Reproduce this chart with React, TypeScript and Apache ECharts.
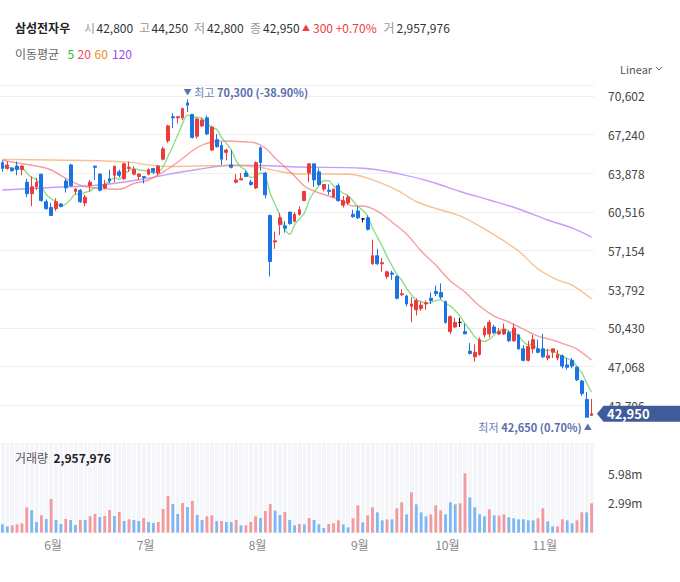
import React, { useEffect, useRef } from 'react';
import * as echarts from 'echarts';

const FONT = "'Noto Sans CJK KR', 'Noto Sans', sans-serif";
const STOCK_NAME = '삼성전자우';
const YEAR = 2024;

// trading days shown on the chart
const MONTHS = [5, 6, 7, 8, 9, 10, 11];
const MAY_DAYS = [17, 20, 21, 22, 23, 24, 27, 28, 29, 30, 31];
const JUN_DAYS = [3, 4, 5, 7, 10, 11, 12, 13, 14, 17, 18, 19, 20, 21, 24, 25, 26, 27, 28];
const JUL_DAYS = [1, 2, 3, 4, 5, 8, 9, 10, 11, 12, 15, 16, 17, 18, 19, 22, 23, 24, 25, 26, 29, 30, 31];
const AUG_DAYS = [1, 2, 5, 6, 7, 8, 9, 12, 13, 14, 16, 19, 20, 21, 22, 23, 26, 27, 28, 29, 30];
const SEP_DAYS = [2, 3, 4, 5, 6, 9, 10, 11, 12, 13, 19, 20, 23, 24, 25, 26, 27, 30];
const OCT_DAYS = [2, 4, 7, 8, 10, 11, 14, 15, 16, 17, 18, 21, 22, 23, 24, 25, 28, 29, 30, 31];
const NOV_DAYS = [1, 4, 5, 6, 7, 8, 11, 12, 13, 14];
const MONTH_DAYS = [MAY_DAYS, JUN_DAYS, JUL_DAYS, AUG_DAYS, SEP_DAYS, OCT_DAYS, NOV_DAYS];

const OPEN = [
  64800, 64300, 64300, 64500, 64200, 63100, 62100, 62700, 63800, 61400,
  60900, 60800, 61200, 63200, 64600, 62300, 62400, 61300, 62800, 64500,
  63800, 62600, 63400, 63700, 64000, 63400, 64300, 63800, 63600, 63600,
  63800, 64300, 63900, 65100, 66700, 68800, 68700, 68700, 70000, 69000,
  67100, 68000, 68700, 65900, 66800, 66300, 65700, 64600, 63100, 63300,
  63900, 63100, 62600, 66100, 63900, 60200, 57900, 59400, 59300, 60500,
  59700, 60300, 61500, 63900, 64700, 64000, 62500, 62400, 61800, 62800,
  61100, 61300, 60300, 60600, 59900, 60000, 56000, 56700, 56000, 54900,
  55200, 54900, 53300, 53200, 52300, 52000, 52100, 52500, 53000, 53600,
  53500, 52700, 50100, 50500, 50900, 50100, 48400, 47900, 48100, 49800,
  49900, 50500, 49900, 49900, 50000, 49300, 49800, 48600, 47600, 48600,
  48600, 48600, 47800, 48300, 47800, 48000, 47200, 47600, 47000, 45800,
  44200, 42800,
];
const CLOSE = [
  64300, 64600, 64100, 64200, 64500, 62100, 62700, 63100, 61500, 60800,
  60200, 61400, 61000, 62600, 62800, 62500, 61400, 61800, 63100, 64400,
  62400, 62900, 63200, 64500, 63700, 64700, 64400, 64200, 63800, 63500,
  64200, 64000, 64500, 66000, 68000, 68700, 68800, 69500, 69800, 67000,
  68600, 68500, 67300, 67900, 66200, 65100, 65900, 64400, 63300, 63400,
  63600, 62900, 64800, 64800, 62000, 56200, 58000, 60000, 59100, 59500,
  60300, 60700, 62300, 64700, 63300, 62900, 62900, 62300, 62500, 61500,
  61500, 61800, 60100, 60000, 59900, 59000, 56700, 56000, 56100, 55300,
  55100, 53000, 53400, 52500, 52500, 52800, 52400, 52600, 52800, 53400,
  53100, 50900, 51400, 50900, 50900, 49900, 48200, 48300, 49400, 50400,
  50900, 50000, 50100, 50300, 49300, 50400, 48600, 47600, 48800, 49400,
  48300, 47900, 48000, 48600, 48100, 47100, 47000, 47100, 45900, 44700,
  42650, 42950,
];
const LOW = [
  64000, 64200, 64000, 63700, 63700, 61800, 61000, 62400, 61400, 60700,
  60200, 60600, 60900, 62200, 62700, 62000, 61300, 61000, 62300, 63300,
  62300, 62500, 63000, 63100, 63500, 63300, 64000, 63700, 63300, 63000,
  63700, 63800, 63700, 65000, 66500, 67800, 68200, 68500, 69200, 66900,
  66900, 67900, 67200, 65800, 66100, 64600, 65000, 64300, 63000, 63300,
  63600, 62800, 62500, 64100, 61700, 54900, 57300, 58500, 58700, 59400,
  59600, 60200, 61500, 63100, 62700, 62800, 62300, 62000, 61800, 61400,
  60900, 61100, 60000, 59900, 59600, 58900, 55900, 55900, 55300, 54700,
  54600, 52900, 53200, 52300, 50900, 51500, 51900, 52000, 52500, 53200,
  52900, 50800, 49900, 50400, 50500, 49900, 48100, 47500, 48000, 49600,
  49600, 49900, 49800, 49800, 49200, 49200, 48500, 47500, 47500, 48200,
  48200, 47800, 47600, 47800, 47600, 46900, 46800, 46900, 45800, 44500,
  42650, 42800,
];
const HIGH = [
  65000, 64900, 64400, 64900, 64600, 63400, 63600, 63500, 63800, 61600,
  61300, 61700, 61300, 63400, 64700, 62600, 62500, 62000, 63300, 64500,
  63900, 63300, 64200, 64500, 64200, 64800, 64900, 64500, 63900, 63600,
  64300, 64300, 64600, 66200, 68100, 69100, 68800, 69600, 70300, 69000,
  68700, 68700, 68900, 68000, 67300, 66600, 66000, 65900, 63800, 63900,
  64100, 63300, 64900, 66200, 64000, 60300, 58800, 60400, 59700, 60500,
  60500, 61000, 62300, 64700, 64700, 64300, 62900, 62900, 62500, 63000,
  61900, 62000, 60700, 61000, 60000, 60200, 58100, 57300, 56500, 55400,
  55400, 55000, 53800, 53300, 53100, 53000, 52700, 52800, 53500, 54100,
  54300, 52800, 51500, 51300, 51300, 50800, 49100, 49000, 49600, 50600,
  51100, 50700, 50400, 50800, 50200, 50800, 49900, 48900, 49300, 49800,
  49400, 49900, 48600, 48600, 48500, 48100, 47800, 47800, 47100, 45900,
  44850, 44250,
];
const VOLUME = [
  840000, 638000, 739000, 840000, 941000, 2554000, 2285000, 1075000, 1747000, 1378000,
  3394000, 1277000, 874000, 1378000, 1277000, 773000, 1277000, 1277000, 1646000, 1882000,
  1579000, 1680000, 2285000, 1680000, 2083000, 1176000, 1344000, 1277000, 1176000, 1478000,
  1075000, 974000, 1075000, 2386000, 3696000, 2890000, 1882000, 2990000, 2587000, 3192000,
  1781000, 1277000, 1646000, 1747000, 1176000, 1176000, 1075000, 1075000, 1277000, 739000,
  739000, 1075000, 1646000, 1478000, 2184000, 2890000, 2218000, 1781000, 2083000, 1277000,
  739000, 874000, 840000, 1478000, 1277000, 840000, 470000, 874000, 941000, 1243000,
  840000, 538000, 1445000, 2755000, 1042000, 1747000, 2554000, 2050000, 1243000, 1344000,
  1344000, 2453000, 3058000, 1848000, 4066000, 2856000, 2050000, 1646000, 1848000, 2755000,
  2251000, 1848000, 3058000, 2856000, 2957000, 5981000, 3562000, 2554000, 1848000, 1646000,
  2352000, 1747000, 1714000, 1848000, 1546000, 1445000, 1344000, 1344000, 1243000, 1243000,
  1445000, 2453000, 1142000, 638000, 638000, 1344000, 1243000, 941000, 1243000, 2050000,
  2050000, 2957976,
];
// 1 = red bar, 0 = blue bar (as drawn)
const VOLUME_UP = [
  0, 0, 1, 1, 1, 1, 0, 0, 1, 0,
  1, 0, 0, 1, 0, 0, 1, 0, 1, 1,
  0, 1, 1, 0, 1, 0, 1, 0, 0, 1,
  0, 0, 1, 1, 1, 0, 0, 1, 0, 1,
  0, 0, 1, 1, 0, 1, 0, 0, 1, 0,
  1, 1, 1, 0, 1, 1, 0, 0, 1, 0,
  0, 1, 0, 1, 0, 0, 0, 1, 1, 1,
  0, 0, 1, 1, 0, 1, 1, 0, 0, 1,
  0, 1, 1, 0, 1, 0, 0, 0, 1, 1,
  1, 0, 0, 0, 1, 1, 0, 0, 0, 0,
  1, 0, 1, 1, 0, 0, 0, 0, 0, 0,
  1, 1, 0, 0, 1, 1, 0, 0, 1, 1,
  0, 1,
];
const MA5 = [
  64500, 64400, 64350, 64300, 64340, 63900, 63520, 63320, 62780, 62040,
  61660, 61400, 60980, 61200, 61600, 62060, 62060, 62220, 62320, 62640,
  62620, 62920, 63200, 63480, 63340, 63800, 64100, 64300, 64160, 64120,
  64020, 63940, 64000, 64440, 65340, 66240, 67200, 68200, 68960, 68760,
  68740, 68680, 68240, 67860, 67700, 67000, 66480, 65900, 64980, 64420,
  64120, 63520, 63600, 63900, 63620, 62140, 61160, 60200, 59060, 58560,
  59380, 59920, 60380, 61500, 62260, 62780, 63220, 63220, 62780, 62420,
  62140, 61920, 61480, 60980, 60660, 60160, 59140, 58320, 57540, 56620,
  55840, 55100, 54580, 53860, 53300, 52840, 52720, 52560, 52620, 52800,
  52860, 52560, 52320, 51940, 51440, 50800, 50260, 49640, 49340, 49240,
  49440, 49800, 50160, 50340, 50120, 50020, 49740, 49240, 48940, 48960,
  48540, 48400, 48480, 48440, 48180, 47940, 47760, 47580, 47040, 46520,
  45630, 44820,
];
// [candle index, value]
const MA20_POINTS = [
  [0, 65030], [3, 64770], [7, 64510], [10, 64160], [14, 63200], [17, 62720], [20, 62570],
  [24, 62480], [27, 62990], [30, 63290], [34, 64250], [37, 65160], [40, 66120], [43, 66600],
  [46, 66680], [50, 66600], [52, 66510], [54, 66080], [56, 65210], [58, 64420], [60, 63640],
  [62, 62770], [64, 62330], [67, 61900], [70, 61460], [72, 61030], [74, 61030], [77, 60590],
  [80, 59640], [83, 58590], [86, 57110], [89, 55890], [92, 54500], [95, 53540], [98, 52320],
  [101, 51450], [104, 50930], [107, 50320], [110, 49710], [113, 49360], [116, 48930],
  [118, 48580], [121, 47620],
];
const MA60_POINTS = [
  [0, 65090], [10, 65030], [20, 64970], [27, 64800], [30, 64600], [34, 64470], [40, 64510],
  [47, 64550], [53, 64380], [57, 64030], [61, 63810], [67, 63810], [71, 63790], [75, 63460],
  [81, 62420], [85, 61420], [89, 60810], [94, 60160], [100, 58770], [106, 57110],
  [110, 55550], [114, 54590], [117, 54150], [121, 52940],
];
const MA120_POINTS = [
  [0, 62420], [10, 62640], [20, 62860], [30, 63450], [34, 63780], [40, 64200], [47, 64580],
  [53, 64550], [61, 64420], [74, 64310], [81, 63870], [88, 63140], [94, 62290], [100, 61550],
  [106, 60770], [112, 59810], [117, 59110], [121, 58330],
];

const PRICE_TICK_START = 40344;
const PRICE_TICK_STEP = 3362;
const PRICE_AXIS_MAX = 71558;
const VOLUME_TICK_STEP = 2990000;
const VOLUME_AXIS_MAX = 9060000;

const UP_COLOR = '#ec3b3b';
const DOWN_COLOR = '#1b74e4';
const VOL_UP_COLOR = '#f29a9d';
const VOL_DOWN_COLOR = '#7db8f4';
const MA_LEGEND = [
  { label: '5', color: '#2cb82c', line: '#5fcf5f' },
  { label: '20', color: '#f5475b', line: '#f37575' },
  { label: '60', color: '#f08a24', line: '#f4a864' },
  { label: '120', color: '#9b47f0', line: '#ae74f3' },
];
const MARK_COLOR = '#5b6fae';

const pad = (n: number) => String(n).padStart(2, '0');
const DATES: string[] = MONTHS.flatMap((m, i) => MONTH_DAYS[i].map((d) => `${YEAR}-${pad(m)}-${pad(d)}`));
const fmt = (n: number) => n.toLocaleString('en-US');

export default function App() {
  const ref = useRef<HTMLDivElement>(null);

  useEffect(() => {
    if (!ref.current) return;
    const chart = echarts.init(ref.current, undefined, { renderer: 'svg' });
    const n = DATES.length;
    const last = n - 1;
    const lastClose = CLOSE[last];
    const prevClose = CLOSE[last - 1];
    const change = lastClose - prevClose;
    const changePct = (change / prevClose) * 100;

    let hiIdx = 0;
    let loIdx = 0;
    HIGH.forEach((v, i) => { if (v > HIGH[hiIdx]) hiIdx = i; });
    LOW.forEach((v, i) => { if (v < LOW[loIdx]) loIdx = i; });
    const hiVal = HIGH[hiIdx];
    const loVal = LOW[loIdx];
    const hiPct = (((lastClose - hiVal) / hiVal) * 100).toFixed(2);
    const loPct = (((lastClose - loVal) / loVal) * 100).toFixed(2);

    const isMonthStart = (i: number) => i > 0 && DATES[i].slice(5, 7) !== DATES[i - 1].slice(5, 7);

    const markRich = {
      arr: { fontSize: 8, color: MARK_COLOR, fontFamily: FONT },
      arrL: { fontSize: 8, color: MARK_COLOR, fontFamily: FONT, padding: [0, 0, 0, 2] },
      a: { fontSize: 11, color: '#6a7bb5', fontFamily: FONT },
      b: { fontSize: 11, color: MARK_COLOR, fontWeight: 'bold', fontFamily: FONT },
    };

    const maLine = (name: string, data: any[], color: string, z: number) => ({
      name,
      type: 'line',
      xAxisIndex: 0,
      yAxisIndex: 0,
      data,
      smooth: 0.35,
      showSymbol: false,
      symbol: 'none',
      silent: true,
      z,
      lineStyle: { color, width: 1.4, opacity: 0.7 },
    });

    chart.setOption({
      animation: false,
      backgroundColor: '#ffffff',
      textStyle: { fontFamily: FONT },
      grid: [
        { left: -1, right: 86, top: 85, height: 358.7 },
        { left: -1, right: 86, top: 442.7, height: 90, show: true, backgroundColor: '#f5f6fa', borderWidth: 0 },
      ],
      xAxis: [
        {
          type: 'category', gridIndex: 0, data: DATES, boundaryGap: true,
          axisLine: { show: false }, axisTick: { show: false }, axisLabel: { show: false }, splitLine: { show: false },
        },
        {
          type: 'category', gridIndex: 1, data: DATES, boundaryGap: true,
          axisLine: { show: false }, axisTick: { show: false },
          axisLabel: {
            interval: (i: number) => isMonthStart(i),
            formatter: (v: string) => `${Number(v.slice(5, 7))}월`,
            color: '#888', fontSize: 12, margin: 6, padding: [0, 6, 0, 0], fontFamily: FONT,
          },
          splitLine: { show: true, interval: 0, lineStyle: { color: '#ffffff', width: 1 } },
        },
      ],
      yAxis: [
        {
          type: 'value', gridIndex: 0, position: 'right', scale: true,
          min: PRICE_TICK_START, max: PRICE_AXIS_MAX, interval: PRICE_TICK_STEP,
          axisLine: { show: false }, axisTick: { show: false },
          axisLabel: {
            formatter: (v: number) => (v > PRICE_TICK_START + 1 ? fmt(v) : ''),
            color: '#444', fontSize: 12, margin: 14, align: 'left', fontFamily: FONT,
          },
          splitLine: { lineStyle: { color: '#efefef', width: 1 } },
        },
        {
          type: 'value', gridIndex: 1, position: 'right',
          min: 0, max: VOLUME_AXIS_MAX, interval: VOLUME_TICK_STEP,
          axisLine: { show: false }, axisTick: { show: false },
          axisLabel: {
            formatter: (v: number) => (v > 0 && v < VOLUME_AXIS_MAX - VOLUME_TICK_STEP ? `${(v / 1e6).toFixed(2)}m` : ''),
            color: '#444', fontSize: 12, margin: 14, align: 'left', fontFamily: FONT,
          },
          splitLine: { show: false },
        },
      ],
      series: [
        maLine('MA120', MA120_POINTS, MA_LEGEND[3].line, 1),
        maLine('MA60', MA60_POINTS, MA_LEGEND[2].line, 1),
        maLine('MA20', MA20_POINTS, MA_LEGEND[1].line, 1),
        maLine('MA5', MA5, MA_LEGEND[0].line, 1),
        {
          name: 'price',
          type: 'candlestick',
          xAxisIndex: 0,
          yAxisIndex: 0,
          z: 3,
          barWidth: '68%',
          data: DATES.map((_, i) => [OPEN[i], CLOSE[i], LOW[i], HIGH[i]]),
          itemStyle: {
            color: UP_COLOR, color0: DOWN_COLOR,
            borderColor: UP_COLOR, borderColor0: DOWN_COLOR,
            borderColorDoji: '#111', borderWidth: 1,
          },
          markPoint: {
            symbol: 'circle',
            symbolSize: 1,
            silent: true,
            itemStyle: { color: 'rgba(0,0,0,0)' },
            data: [
              {
                coord: [DATES[hiIdx], hiVal],
                value: hiVal,
                label: {
                  show: true, position: 'top', distance: 1, align: 'left', offset: [-4, 0],
                  formatter: `{arr|▼} {a|최고} {b|${fmt(hiVal)} (${hiPct}%)}`,
                  rich: markRich,
                },
              },
              {
                coord: [DATES[loIdx], loVal],
                value: loVal,
                label: {
                  show: true, position: 'bottom', distance: 3, align: 'right', offset: [5, 0],
                  formatter: `{a|최저} {b|${fmt(loVal)} (${loPct}%)}{arrL|▲}`,
                  rich: markRich,
                },
              },
            ],
          },
        },
        {
          name: 'volume',
          type: 'bar',
          xAxisIndex: 1,
          yAxisIndex: 1,
          barWidth: '58%',
          data: VOLUME.map((v, i) => ({ value: v, itemStyle: { color: VOLUME_UP[i] ? VOL_UP_COLOR : VOL_DOWN_COLOR } })),
        },
      ],
    });

    const yTag = chart.convertToPixel({ yAxisIndex: 0 } as any, lastClose) as number;

    const txt = (x: number, y: number, text: string, fill: string, size = 12, weight: string = 'normal') => ({
      type: 'text', x, y, z: 100,
      style: { text, fill, fontSize: size, fontWeight: weight, fontFamily: FONT, align: 'left', verticalAlign: 'middle' },
    });

    const red = '#f03c3c';
    const graphics: any[] = [
      txt(15, 27.5, STOCK_NAME, '#222', 12, 'bold'),
      txt(84, 27.5, '시', '#999'),
      txt(96.5, 27.5, fmt(OPEN[last]), '#333'),
      txt(139, 27.5, '고', '#999'),
      txt(151.5, 27.5, fmt(HIGH[last]), '#333'),
      txt(194, 27.5, '저', '#999'),
      txt(207, 27.5, fmt(LOW[last]), '#333'),
      txt(250, 27.5, '종', '#999'),
      txt(263, 27.5, fmt(lastClose), '#333'),
      txt(302, 27, change >= 0 ? '▲' : '▼', red, 8),
      txt(313, 27.5, `${fmt(Math.abs(change))} ${change >= 0 ? '+' : '-'}${Math.abs(changePct).toFixed(2)}%`, red),
      txt(383.5, 27.5, '거', '#999'),
      txt(396.5, 27.5, fmt(VOLUME[last]), '#333'),
      txt(15, 53.5, '이동평균', '#666'),
      txt(67.5, 53.5, MA_LEGEND[0].label, MA_LEGEND[0].color),
      txt(77.5, 53.5, MA_LEGEND[1].label, MA_LEGEND[1].color),
      txt(94.5, 53.5, MA_LEGEND[2].label, MA_LEGEND[2].color),
      txt(112, 53.5, MA_LEGEND[3].label, MA_LEGEND[3].color),
      txt(620, 68.5, 'Linear', '#555', 11),
      {
        type: 'polyline', z: 100,
        shape: { points: [[656, 67], [659, 70], [662, 67]] },
        style: { stroke: '#666', lineWidth: 1, fill: 'none' },
      },
      txt(15, 457.5, '거래량', '#555'),
      txt(53.5, 457.5, fmt(VOLUME[last]), '#222', 12, 'bold'),
      {
        type: 'polygon', z: 100,
        shape: { points: [[597, yTag], [603.5, yTag - 8], [680, yTag - 8], [680, yTag + 8], [603.5, yTag + 8]] },
        style: { fill: '#3f5b9a' },
      },
      txt(607, yTag, fmt(lastClose), '#ffffff', 13, 'bold'),
    ];
    chart.setOption({ graphic: graphics });

    return () => chart.dispose();
  }, []);

  return (
    <div
      ref={ref}
      style={{ position: 'absolute', left: 0, top: 0, width: 680, height: 582, background: '#fff' }}
    />
  );
}
